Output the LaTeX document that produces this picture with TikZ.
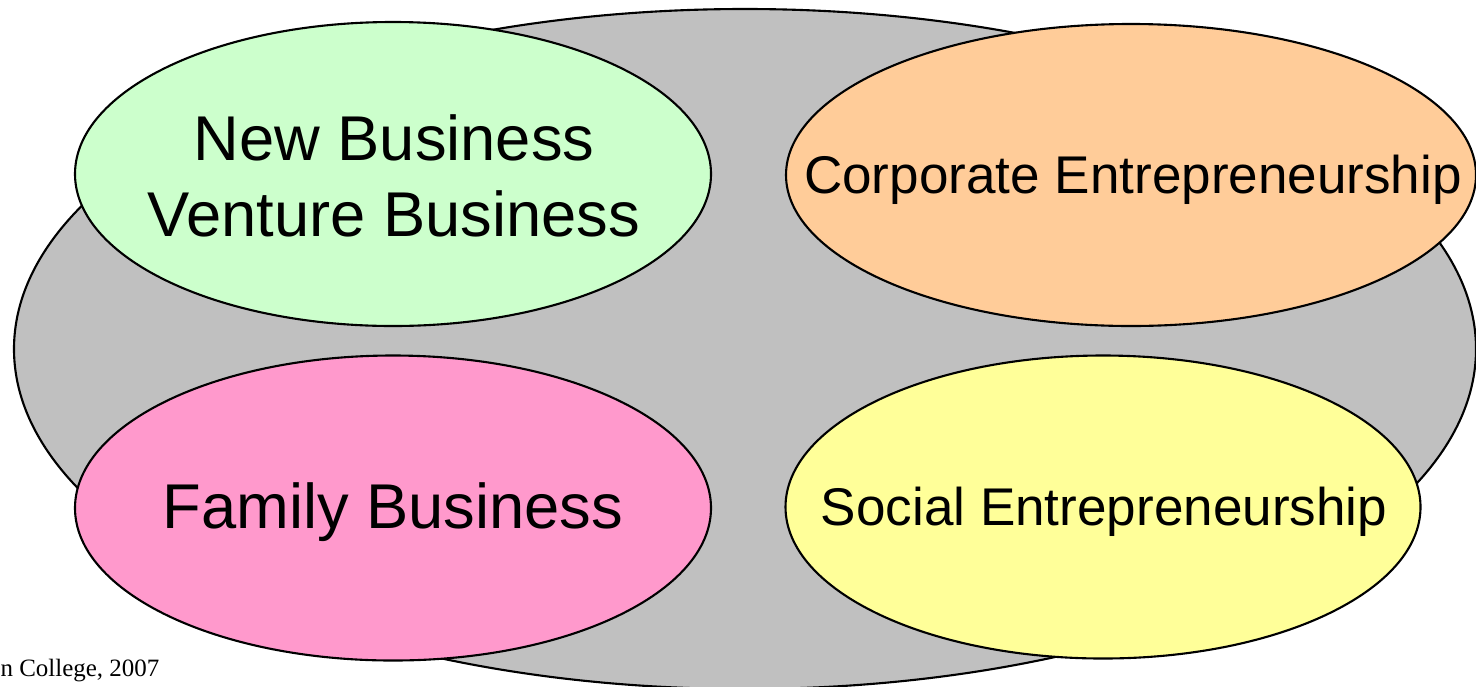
\documentclass[tikz,border=0pt]{standalone}
\usepackage{fontspec}
\setmainfont{Liberation Sans}
\newfontfamily\notefont{Liberation Serif}
\usetikzlibrary{shapes.geometric}

\definecolor{outergray}{HTML}{C0C0C0}
\definecolor{newgreen}{HTML}{CCFFCC}
\definecolor{corporange}{HTML}{FFCC99}
\definecolor{familypink}{HTML}{FF99CC}
\definecolor{socialyellow}{HTML}{FFFF99}

\begin{document}
\begin{tikzpicture}[blob/.style={ellipse, draw, line width=0.6pt, inner sep=0pt},
	big/.style={font=\fontsize{18}{21.6}\selectfont, align=center},
	small/.style={font=\fontsize{15.1}{18}\selectfont, align=center}]
	\useasboundingbox (0,0) rectangle (14.76,6.86);
	\clip (0,0) rectangle (14.76,6.86);

	\node[blob, fill=outergray, minimum width=14.62cm, minimum height=6.80cm] (all) at (7.45,3.37) {};

	\node[blob, fill=newgreen, minimum width=6.36cm, minimum height=3.04cm] (NB) at (3.93,5.12) {};
	\node[blob, fill=corporange, minimum width=6.90cm, minimum height=3.02cm] (CE) at (11.31,5.11) {};
	\node[blob, fill=familypink, minimum width=6.36cm, minimum height=3.05cm] (FB) at (3.93,1.78) {};
	\node[blob, fill=socialyellow, minimum width=6.35cm, minimum height=3.03cm] (SE) at (11.03,1.79) {};

	\node[big] (NBtext) at (3.94,5.10) {New Business\\Venture Business};
	\node[small] (CEtext) at (11.33,5.06) {Corporate Entrepreneurship};
	\node[big] (FBtext) at (3.93,1.74) {Family Business};
	\node[small] (SEtext) at (11.04,1.74) {Social Entrepreneurship};

	\node[anchor=base east, inner sep=0pt, font=\notefont\fontsize{7.1}{8}\selectfont] (note) at (1.60,0.10) {n College, 2007};

\end{tikzpicture}
\end{document}
